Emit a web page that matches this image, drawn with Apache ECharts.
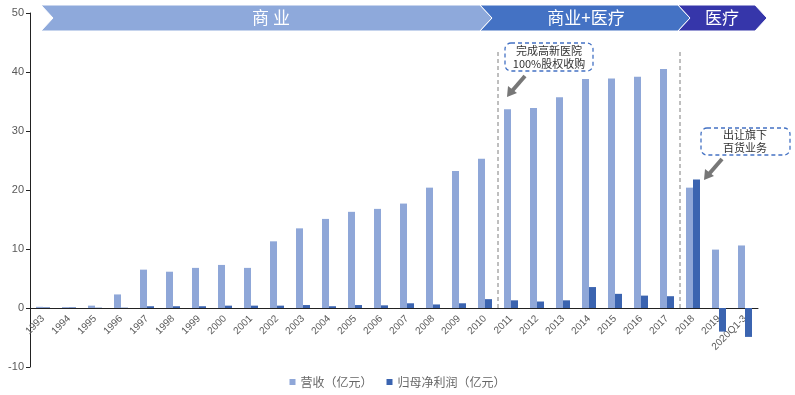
<!DOCTYPE html>
<html><head><meta charset="utf-8">
<script src="https://cdn.jsdelivr.net/npm/echarts@6/dist/echarts.min.js"></script>
<style>html,body{margin:0;padding:0;background:#fff}#c{width:795px;height:395px}</style>
</head><body><div id="c"></div>
<script>
const categories = ['1993','1994','1995','1996','1997','1998','1999','2000','2001','2002','2003','2004','2005','2006','2007','2008','2009','2010','2011','2012','2013','2014','2015','2016','2017','2018','2019','2020Q1-3'];
const revenue = [0.2,0.15,0.4,2.3,6.5,6.15,6.8,7.3,6.8,11.3,13.5,15.1,16.3,16.8,17.7,20.4,23.2,25.3,33.7,33.9,35.7,38.8,38.9,39.2,40.5,20.4,9.9,10.6];
const profit = [0.1,0.1,0.05,0.05,0.3,0.3,0.3,0.4,0.4,0.4,0.5,0.3,0.5,0.45,0.8,0.6,0.8,1.5,1.3,1.1,1.3,3.55,2.4,2.1,2.0,21.8,-4.0,-4.9];
const yTicks = {min:-10, max:50, interval:10};
const seriesNames = ['营收（亿元）','归母净利润（亿元）'];

const chart = echarts.init(document.getElementById('c'), null, {renderer:'canvas'});
const cjk = '"Noto Sans CJK SC", sans-serif';
const option = {
  animation:false,
  grid:{left:30,right:37,top:13,bottom:28,containLabel:false,outerBoundsMode:'none'},
  legend:{
    bottom:2,left:'center',itemWidth:6,itemHeight:6,itemGap:14,icon:'rect',
    textStyle:{color:'#666',fontSize:12,fontFamily:cjk},
    data:seriesNames
  },
  xAxis:{
    type:'category',data:categories,position:'bottom',offset:0,
    axisLine:{onZero:false,lineStyle:{color:'#222',width:1}},
    axisTick:{show:false},
    axisLabel:{rotate:45,interval:0,fontSize:10,color:'#595959',fontFamily:'"Liberation Sans", Arial',margin:9}
  },
  yAxis:{
    type:'value',min:yTicks.min,max:yTicks.max,interval:yTicks.interval,
    splitLine:{show:false},
    axisLine:{show:true,lineStyle:{color:'#222'}},
    axisTick:{show:true,length:4,lineStyle:{color:'#222'}},
    axisLabel:{fontSize:11,color:'#595959',fontFamily:'"Liberation Sans", Arial',margin:6}
  },
  series:[
    {name:seriesNames[0],type:'bar',data:revenue,barWidth:7,barGap:'0%',itemStyle:{color:'#8FA7D8'}},
    {name:seriesNames[1],type:'bar',data:profit,barWidth:7,itemStyle:{color:'#3B64B0'}}
  ]
};
chart.setOption(option);

// move the category axis (line + labels) up to the zero value
const yZero = chart.convertToPixel({yAxisIndex:0}, 0);
const yMinPx = chart.convertToPixel({yAxisIndex:0}, yTicks.min);
chart.setOption({xAxis:{offset:-(yMinPx - yZero)}});

// annotations
const px = c => chart.convertToPixel({xAxisIndex:0}, c);
const sep1 = (px('2010')+px('2011'))/2;
const sep2 = (px('2017')+px('2018'))/2;
const bTop=5, bBot=31, bMid=18;
function chevron(xl, xr, color){
  return {type:'polygon',shape:{points:[[xl,bTop],[xr,bTop],[xr+12,bMid],[xr,bBot],[xl,bBot],[xl+12,bMid]]},
    style:{fill:color,stroke:'#fff',lineWidth:1}};
}
const txt = (x,y,t,size,color)=>({type:'text',x:x,y:y,style:{text:t,fill:color,font:size+'px '+cjk,textAlign:'center',textVerticalAlign:'middle'}});
const graphic = [
  chevron(41, 480, '#8EA9DB'),
  chevron(480, 678, '#4472C4'),
  chevron(678, 755, '#3636AA'),
  txt(271, 18, '商 业', 17, '#fff'),
  txt(586, 18, '商业+医疗', 17, '#fff'),
  txt(722, 18, '医疗', 17, '#fff'),
  {type:'line',shape:{x1:sep1,y1:52,x2:sep1,y2:yZero},style:{stroke:'#7f7f7f',lineDash:[4,3],lineWidth:1}},
  {type:'line',shape:{x1:sep2,y1:52,x2:sep2,y2:yZero},style:{stroke:'#7f7f7f',lineDash:[4,3],lineWidth:1}},
  {type:'rect',shape:{x:505,y:43,width:88,height:28,r:6},style:{fill:'#fff',stroke:'#4472C4',lineDash:[4,3],lineWidth:1.3}},
  txt(549, 51, '完成高新医院', 11, '#333'),
  txt(549, 64, '100%股权收购', 11, '#333'),
  {type:'rect',shape:{x:701,y:128,width:89,height:27,r:6},style:{fill:'#fff',stroke:'#4472C4',lineDash:[4,3],lineWidth:1.3}},
  txt(745, 135, '出让旗下', 11, '#333'),
  txt(745, 148, '百货业务', 11, '#333'),
  {type:'line',shape:{x1:525,y1:76,x2:512,y2:91},style:{stroke:'#777',lineWidth:4}},
  {type:'polygon',shape:{points:[[507,97],[508,86],[517,93]]},style:{fill:'#777'}},
  {type:'line',shape:{x1:722,y1:159,x2:709,y2:174},style:{stroke:'#777',lineWidth:4}},
  {type:'polygon',shape:{points:[[704,180],[705,169],[714,176]]},style:{fill:'#777'}}
];
chart.setOption({graphic:graphic});
</script></body></html>
